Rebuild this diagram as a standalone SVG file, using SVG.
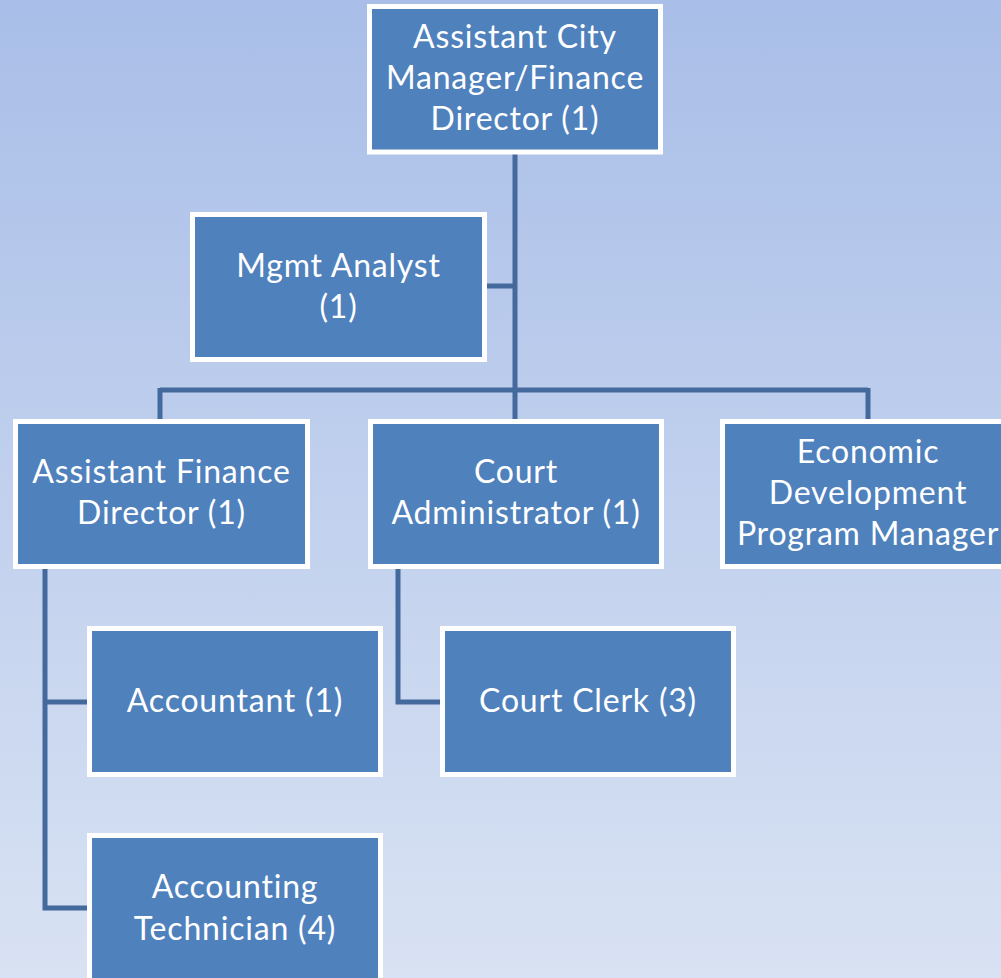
<svg xmlns="http://www.w3.org/2000/svg" width="1001" height="978" viewBox="0 0 1001 978">
<defs>
<linearGradient id="bg" x1="0" y1="0" x2="0" y2="1">
<stop offset="0" stop-color="#a9bee8"/>
<stop offset="1" stop-color="#d8e2f3"/>
</linearGradient>
<style>
.box{fill:#4f81bd;stroke:#ffffff;stroke-width:5}
.t{font-family:Lato,"Open Sans",sans-serif;font-size:32px;letter-spacing:0.8px;fill:#ffffff;text-anchor:middle}
.c{fill:none;stroke:#44699d;stroke-width:5}
</style>
</defs>
<rect x="0" y="0" width="1001" height="978" fill="url(#bg)"/>
<g id="connectors">
<path class="c" d="M515,152 V419"/>
<path class="c" d="M487,286 H515"/>
<path class="c" d="M160,390 H868"/>
<path class="c" d="M160,388 V419"/>
<path class="c" d="M868,388 V419"/>
<path class="c" d="M45,569 V908 H89"/>
<path class="c" d="M45,702 H89"/>
<path class="c" d="M398,569 V702 H440"/>
</g>
<g id="n1"><rect class="box" x="369.5" y="6.5" width="291" height="145.5"/>
<text class="t" x="515" y="48">Assistant City</text><text class="t" x="515" y="89">Manager/Finance</text><text class="t" x="515" y="130">Director (1)</text></g>
<g id="n2"><rect class="box" x="192.5" y="214.5" width="292" height="145"/>
<text class="t" x="338.5" y="277">Mgmt Analyst</text><text class="t" x="338.5" y="318">(1)</text></g>
<g id="n3"><rect class="box" x="15.5" y="421.5" width="292" height="145"/>
<text class="t" x="161.5" y="483">Assistant Finance</text><text class="t" x="161.5" y="524">Director (1)</text></g>
<g id="n4"><rect class="box" x="370.5" y="421.5" width="291" height="145"/>
<text class="t" x="516" y="483">Court</text><text class="t" x="516" y="524">Administrator (1)</text></g>
<g id="n5"><rect class="box" x="722.5" y="421.5" width="292" height="145"/>
<text class="t" x="868" y="463">Economic</text><text class="t" x="868" y="504">Development</text><text class="t" x="868" y="545">Program Manager</text></g>
<g id="n6"><rect class="box" x="89.5" y="628.5" width="291" height="146"/>
<text class="t" x="235" y="712">Accountant (1)</text></g>
<g id="n7"><rect class="box" x="442.5" y="628.5" width="291" height="146"/>
<text class="t" x="588" y="712">Court Clerk (3)</text></g>
<g id="n8"><rect class="box" x="89.5" y="835.5" width="291" height="146"/>
<text class="t" x="235" y="898">Accounting</text><text class="t" x="235" y="940">Technician (4)</text></g>
</svg>
